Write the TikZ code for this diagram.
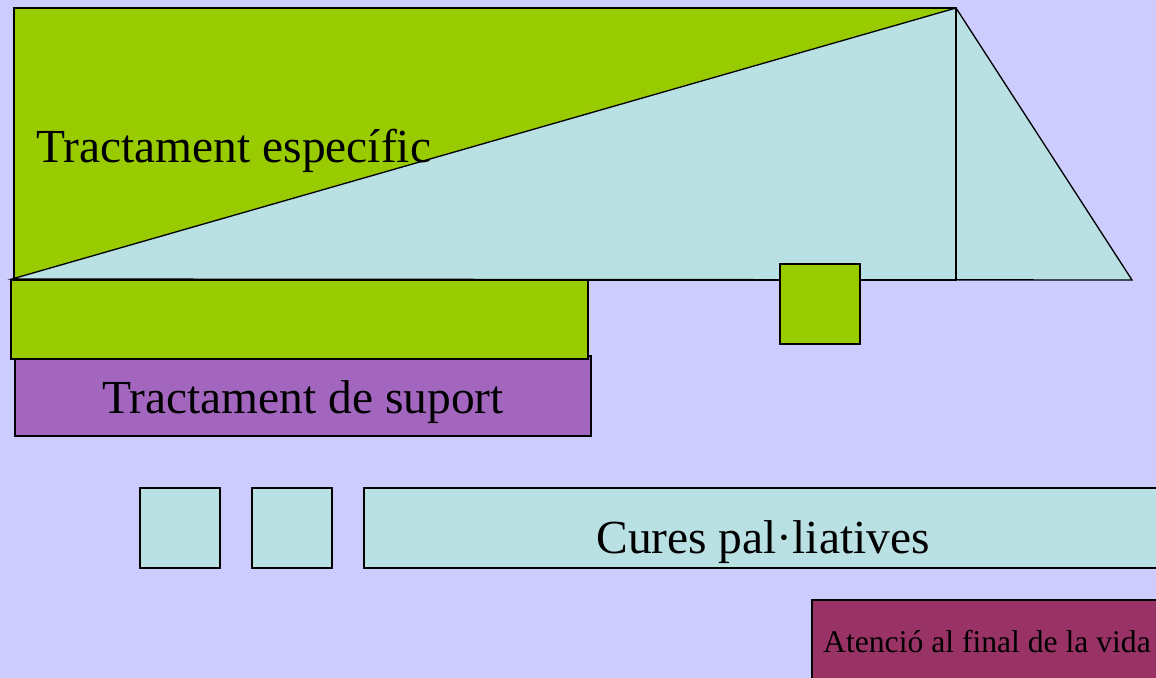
\documentclass[tikz,border=0pt]{standalone}
\usepackage{fontspec}
\setmainfont{Liberation Serif}
\usepackage{xcolor}
\usepackage{tikz}
\usetikzlibrary{positioning}

\definecolor{fons}{RGB}{204,204,255}
\definecolor{verd}{RGB}{153,204,0}
\definecolor{blaucel}{RGB}{185,224,227}
\definecolor{lila}{RGB}{163,102,191}
\definecolor{granat}{RGB}{153,51,102}

\begin{document}
\begin{tikzpicture}[x=0.02cm,y=-0.02cm,
    caixa/.style={draw=black,line width=0.75pt,inner sep=0pt,outer sep=0pt},
    gran/.style={font=\fontsize{27}{32}\selectfont,inner sep=0pt,anchor=base},
    petit/.style={font=\fontsize{18}{22}\selectfont,inner sep=0pt,anchor=base}]

  % background and page size
  \fill[fons] (0,0) rectangle (1156,678);
  \useasboundingbox (0,0) rectangle (1156,678);
  \clip (0,0) rectangle (1156,678);

  \coordinate (EsqDalt) at (14,8);
  \coordinate (Cim)     at (956,8);
  \coordinate (EsqBaix) at (12,279);
  \coordinate (Peu)     at (956,280);
  \coordinate (Punta)   at (1132,280);

  % specific treatment (green) and the wedge of palliative care
  \filldraw[fill=verd, line width=0.75pt] (EsqDalt) rectangle (Peu);
  \filldraw[fill=blaucel, line width=0.75pt] (EsqBaix) -- (Cim) -- (Punta) -- cycle;
  \draw[line width=0.75pt] (Cim) -- (Peu);
  \node[gran, anchor=base west] (especific) at (36,163) {Tractament específic};

  % support treatment
  \node[caixa, fill=lila, minimum width=11.52cm, minimum height=1.6cm] (suport) at (303,396) {};
  \node[gran] (suportText) at (303,414) {Tractament de suport};
  \node[caixa, fill=verd, minimum width=11.54cm, minimum height=1.58cm] (barra) at (299.5,319.5) {};
  \node[caixa, fill=verd, minimum width=1.6cm, minimum height=1.6cm] (quadrat) at (820,304) {};

  % palliative care row
  \node[caixa, fill=blaucel, minimum width=1.6cm, minimum height=1.6cm] (cel1) at (180,528) {};
  \node[caixa, fill=blaucel, minimum width=1.6cm, minimum height=1.6cm, right=0.64cm of cel1] (cel2) {};
  \node[caixa, fill=blaucel, minimum width=15.96cm, minimum height=1.6cm, right=0.64cm of cel2] (cures) {};
  \node[gran] (curesText) at (763,553) {Cures pal·liatives};

  % end of life
  \node[caixa, fill=granat, minimum width=7cm, minimum height=1.72cm] (final) at (987,643) {};
  \node[petit] (finalText) at (987,652) {Atenció al final de la vida};

\end{tikzpicture}
\end{document}
